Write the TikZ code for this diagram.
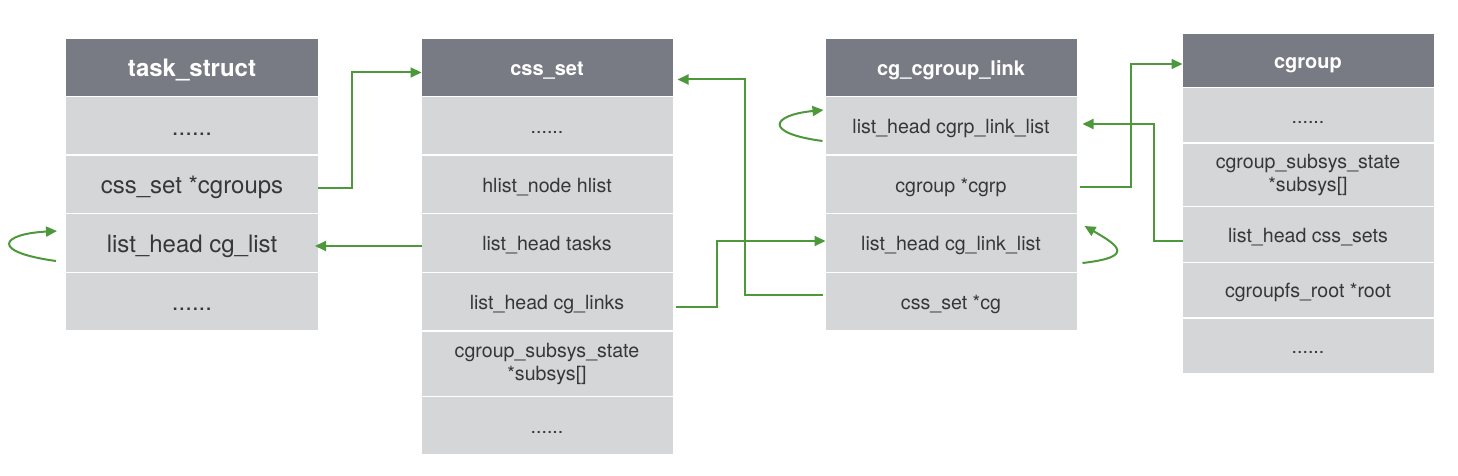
\documentclass[tikz,border=0pt]{standalone}
\usepackage{fontspec}
\setmainfont{TeX Gyre Heros}
\usetikzlibrary{arrows.meta}
\usetikzlibrary{positioning}

\definecolor{hdrgray}{RGB}{120,123,131}
\definecolor{fldgray}{RGB}{213,214,215}
\definecolor{txtgray}{RGB}{55,55,55}
\definecolor{lnkgreen}{RGB}{76,152,58}

\tikzset{
  hdr/.style={fill=hdrgray, text=white, font=\bfseries\fontsize{10}{12}\selectfont,
    text height=7.8pt, text depth=0pt,
    minimum width=125.5pt, minimum height=28.5pt, inner sep=0pt, outer sep=0pt, anchor=north},
  cell/.style={fill=fldgray, text=txtgray, font=\fontsize{9.8}{11.5}\selectfont,
    minimum width=125.5pt, minimum height=28.5pt, inner sep=0pt, outer sep=0pt, align=center},
  fld/.style={cell, text height=7.7pt, text depth=0pt},
  bigfld/.style={fld, font=\fontsize{12}{14}\selectfont, text height=9.2pt, minimum width=126pt},
  lnk/.style={lnkgreen, line width=1pt, -{Triangle[length=5.5pt,width=5pt]}},
}

\begin{document}
\begin{tikzpicture}[x=0.5pt,y=-0.5pt]
        \useasboundingbox (0,0) rectangle (1458,476);

        % task_struct
        \node[hdr, font=\bfseries\fontsize{12}{14}\selectfont, text height=9.4pt, minimum width=126pt] (ts0) at (192,39) {task\_struct};
        \node[bigfld, below=0.75pt of ts0] (ts1) {......};
        \node[bigfld, below=0.75pt of ts1] (ts2) {css\_set *cgroups};
        \node[bigfld, below=0.75pt of ts2] (ts3) {list\_head cg\_list};
        \node[bigfld, below=0.75pt of ts3] (ts4) {......};

        % css_set
        \node[hdr] (cs0) at (547,39) {css\_set};
        \node[fld, below=0.75pt of cs0] (cs1) {......};
        \node[fld, below=0.75pt of cs1] (cs2) {hlist\_node hlist};
        \node[fld, below=0.75pt of cs2] (cs3) {list\_head tasks};
        \node[fld, below=0.75pt of cs3] (cs4) {list\_head cg\_links};
        \node[cell, minimum height=32pt, below=0.75pt of cs4] (cs5) {cgroup\_subsys\_state\\{*}subsys[]};
        \node[fld, below=0.75pt of cs5] (cs6) {......};

        % cg_cgroup_link
        \node[hdr] (cl0) at (951,39) {cg\_cgroup\_link};
        \node[fld, below=0.75pt of cl0] (cl1) {list\_head cgrp\_link\_list};
        \node[fld, below=0.75pt of cl1] (cl2) {cgroup *cgrp};
        \node[fld, below=0.75pt of cl2] (cl3) {list\_head cg\_link\_list};
        \node[fld, below=0.75pt of cl3] (cl4) {css\_set *cg};

        % cgroup
        \node[hdr, minimum height=26.5pt] (cg0) at (1308,34) {cgroup};
        \node[fld, minimum height=27pt, below=0.75pt of cg0] (cg1) {......};
        \node[cell, minimum height=31pt, below=0.75pt of cg1] (cg2) {cgroup\_subsys\_state\\{*}subsys[]};
        \node[fld, minimum height=27pt, below=0.75pt of cg2] (cg3) {list\_head css\_sets};
        \node[fld, minimum height=27pt, below=0.75pt of cg3] (cg4) {cgroupfs\_root *root};
        \node[fld, minimum height=27pt, below=0.75pt of cg4] (cg5) {......};

        \draw[lnk] ([yshift=-2pt]ts2.east) -- ++(34,0) |- ([yshift=-2.5pt]cs0.west);
        \draw[lnk] ([yshift=-1.5pt]cs3.west) -- ([shift={(-3,3)}]ts3.east);
        \draw[lnk] ([shift={(-10,18)}]ts3.west) .. controls +(-66,-9) and +(-57,3) .. ([shift={(-9,-12)}]ts3.west);

        \draw[lnk] ([shift={(3,5)}]cs4.east) -- ++(41,0) |- ([yshift=1pt]cl3.west);
        \draw[lnk] ([shift={(-3,-6.5)}]cl4.west) -- ++(-78,0) |- ([shift={(5,12)}]cs0.east);
        \draw[lnk] ([shift={(-3,15)}]cl1.west) .. controls +(-60,-8) and +(-52,5) .. ([shift={(-2,-16)}]cl1.west);

        \draw[lnk] ([shift={(3,2.5)}]cl2.east) -- ++(51,0) |- ([yshift=-1.75pt]cg0.west);
        \draw[lnk] ([yshift=-3.25pt]cg3.west) -- ++(-29,0) |- ([shift={(6,-2)}]cl1.east);
        \draw[lnk] ([shift={(6,20)}]cl3.east) .. controls +(52,-6) and +(35,20) .. ([shift={(8,-17)}]cl3.east);
    \end{tikzpicture}
\end{document}
